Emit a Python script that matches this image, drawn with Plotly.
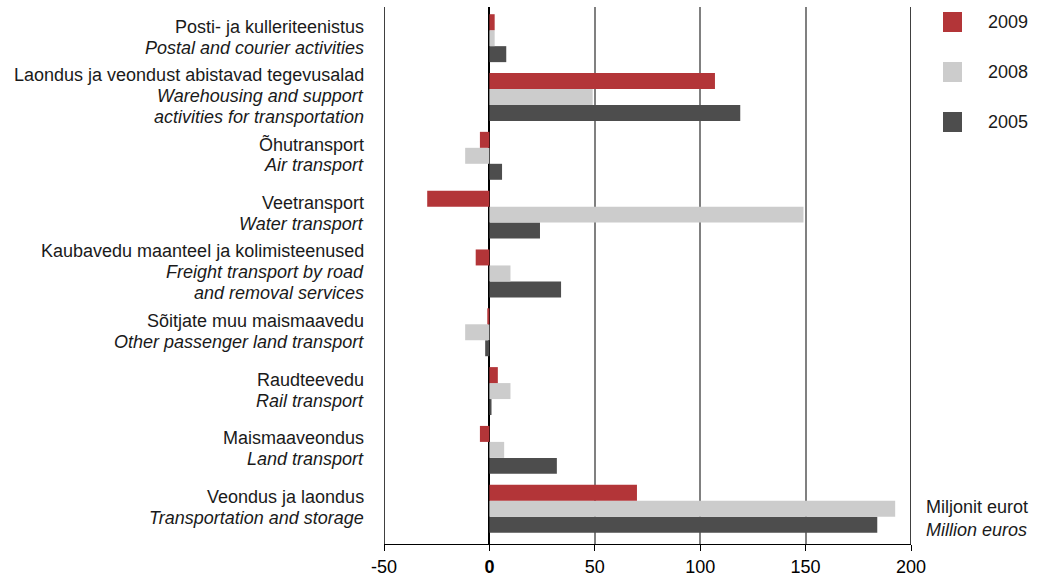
import plotly.graph_objects as go

# categories, bottom to top
labels_et = ["Veondus ja laondus", "Maismaaveondus", "Raudteevedu",
             "Sõitjate muu maismaavedu", "Kaubavedu maanteel ja kolimisteenused",
             "Veetransport", "Õhutransport",
             "Laondus ja veondust abistavad tegevusalad", "Posti- ja kulleriteenistus"]
labels_en = ["Transportation and storage", "Land transport", "Rail transport",
             "Other passenger land transport", "Freight transport by road|and removal services",
             "Water transport", "Air transport",
             "Warehousing and support|activities for transportation", "Postal and courier activities"]

y2005 = [184, 32, 1, -2, 34, 24, 6, 119, 8]
y2008 = [192.5, 7, 10, -11.5, 10, 149, -11.5, 49, 2.5]
y2009 = [70, -4.5, 4, -1, -6.5, -29.5, -4.5, 107, 2.5]

series = [("2005", y2005, "#4d4d4d"), ("2008", y2008, "#cccccc"), ("2009", y2009, "#b33538")]

tick_vals = [-50, 0, 50, 100, 150, 200]
tick_text = ["-50", "<b>0</b>", "50", "100", "150", "200"]

FONT = "Liberation Sans, Arial, sans-serif"
FS = 18
LINE_H = 21

idx = list(range(len(labels_et)))

fig = go.Figure()
for name, vals, color in series:
    fig.add_trace(go.Bar(x=vals, y=idx, orientation="h", name=name,
                         marker=dict(color=color, line=dict(width=0)), showlegend=False))

fig.update_layout(
    width=1038, height=578,
    margin=dict(l=384, r=127, t=7, b=34),
    plot_bgcolor="white", paper_bgcolor="white",
    barmode="group", bargap=0.185, bargroupgap=0,
    font=dict(family=FONT, size=FS, color="#1a1a1a"),
    xaxis=dict(range=[-50, 200], tickvals=tick_vals, ticktext=tick_text,
               automargin=False,
               showgrid=True, gridcolor="#808080", gridwidth=1.5,
               zeroline=True, zerolinecolor="black", zerolinewidth=1.5,
               showline=True, linecolor="black", linewidth=1,
               ticks="outside", ticklen=6, tickcolor="black",
               tickfont=dict(size=FS, color="black")),
    yaxis=dict(range=[-0.6, 8.53], tickvals=idx, showticklabels=False, automargin=False,
               showgrid=False, zeroline=False, showline=False, ticks=""),
)

# category labels: Estonian line + italic English line(s)
for i, (et, en) in enumerate(zip(labels_et, labels_en)):
    lines = [et] + [f"<i>{s}</i>" for s in en.split("|")]
    n = len(lines)
    for k, txt in enumerate(lines):
        fig.add_annotation(x=0, y=i, xref="paper", yref="y", text=txt, showarrow=False,
                           xanchor="right", yanchor="middle", xshift=-18,
                           yshift=((n - 1) / 2 - k) * LINE_H + 1,
                           font=dict(size=FS, color="#1a1a1a"))

# black edge lines at -50 and 200
for v in (tick_vals[0], tick_vals[-1]):
    fig.add_shape(type="line", x0=v, x1=v, y0=0, y1=1, xref="x", yref="paper",
                  line=dict(color="black", width=1.5), layer="below")

# legend drawn as squares, top to bottom 2009, 2008, 2005
PH = 578 - 7 - 34
for i, (name, vals, color) in enumerate(reversed(series)):
    yc = 1 - (15 + i * 50) / PH
    fig.add_shape(type="rect", xref="paper", yref="paper",
                  x0=(943 - 384) / 527, x1=(962 - 384) / 527,
                  y0=yc - 10 / PH, y1=yc + 10 / PH,
                  fillcolor=color, line=dict(width=0))
    fig.add_annotation(x=(986 - 384) / 527, y=yc, xref="paper", yref="paper",
                       text=name, showarrow=False, xanchor="left", yanchor="middle",
                       font=dict(size=FS, color="#1a1a1a"))

fig.add_annotation(x=(924 - 384) / 527, y=(544 - 518) / PH, xref="paper", yref="paper",
                   text="Miljonit eurot<br><i>Million euros</i>", showarrow=False,
                   xanchor="left", yanchor="middle", align="left",
                   font=dict(size=FS, color="#1a1a1a"))

fig.write_html("out.html", config={"displayModeBar": False},
               post_script="document.body.style.margin='0';")
